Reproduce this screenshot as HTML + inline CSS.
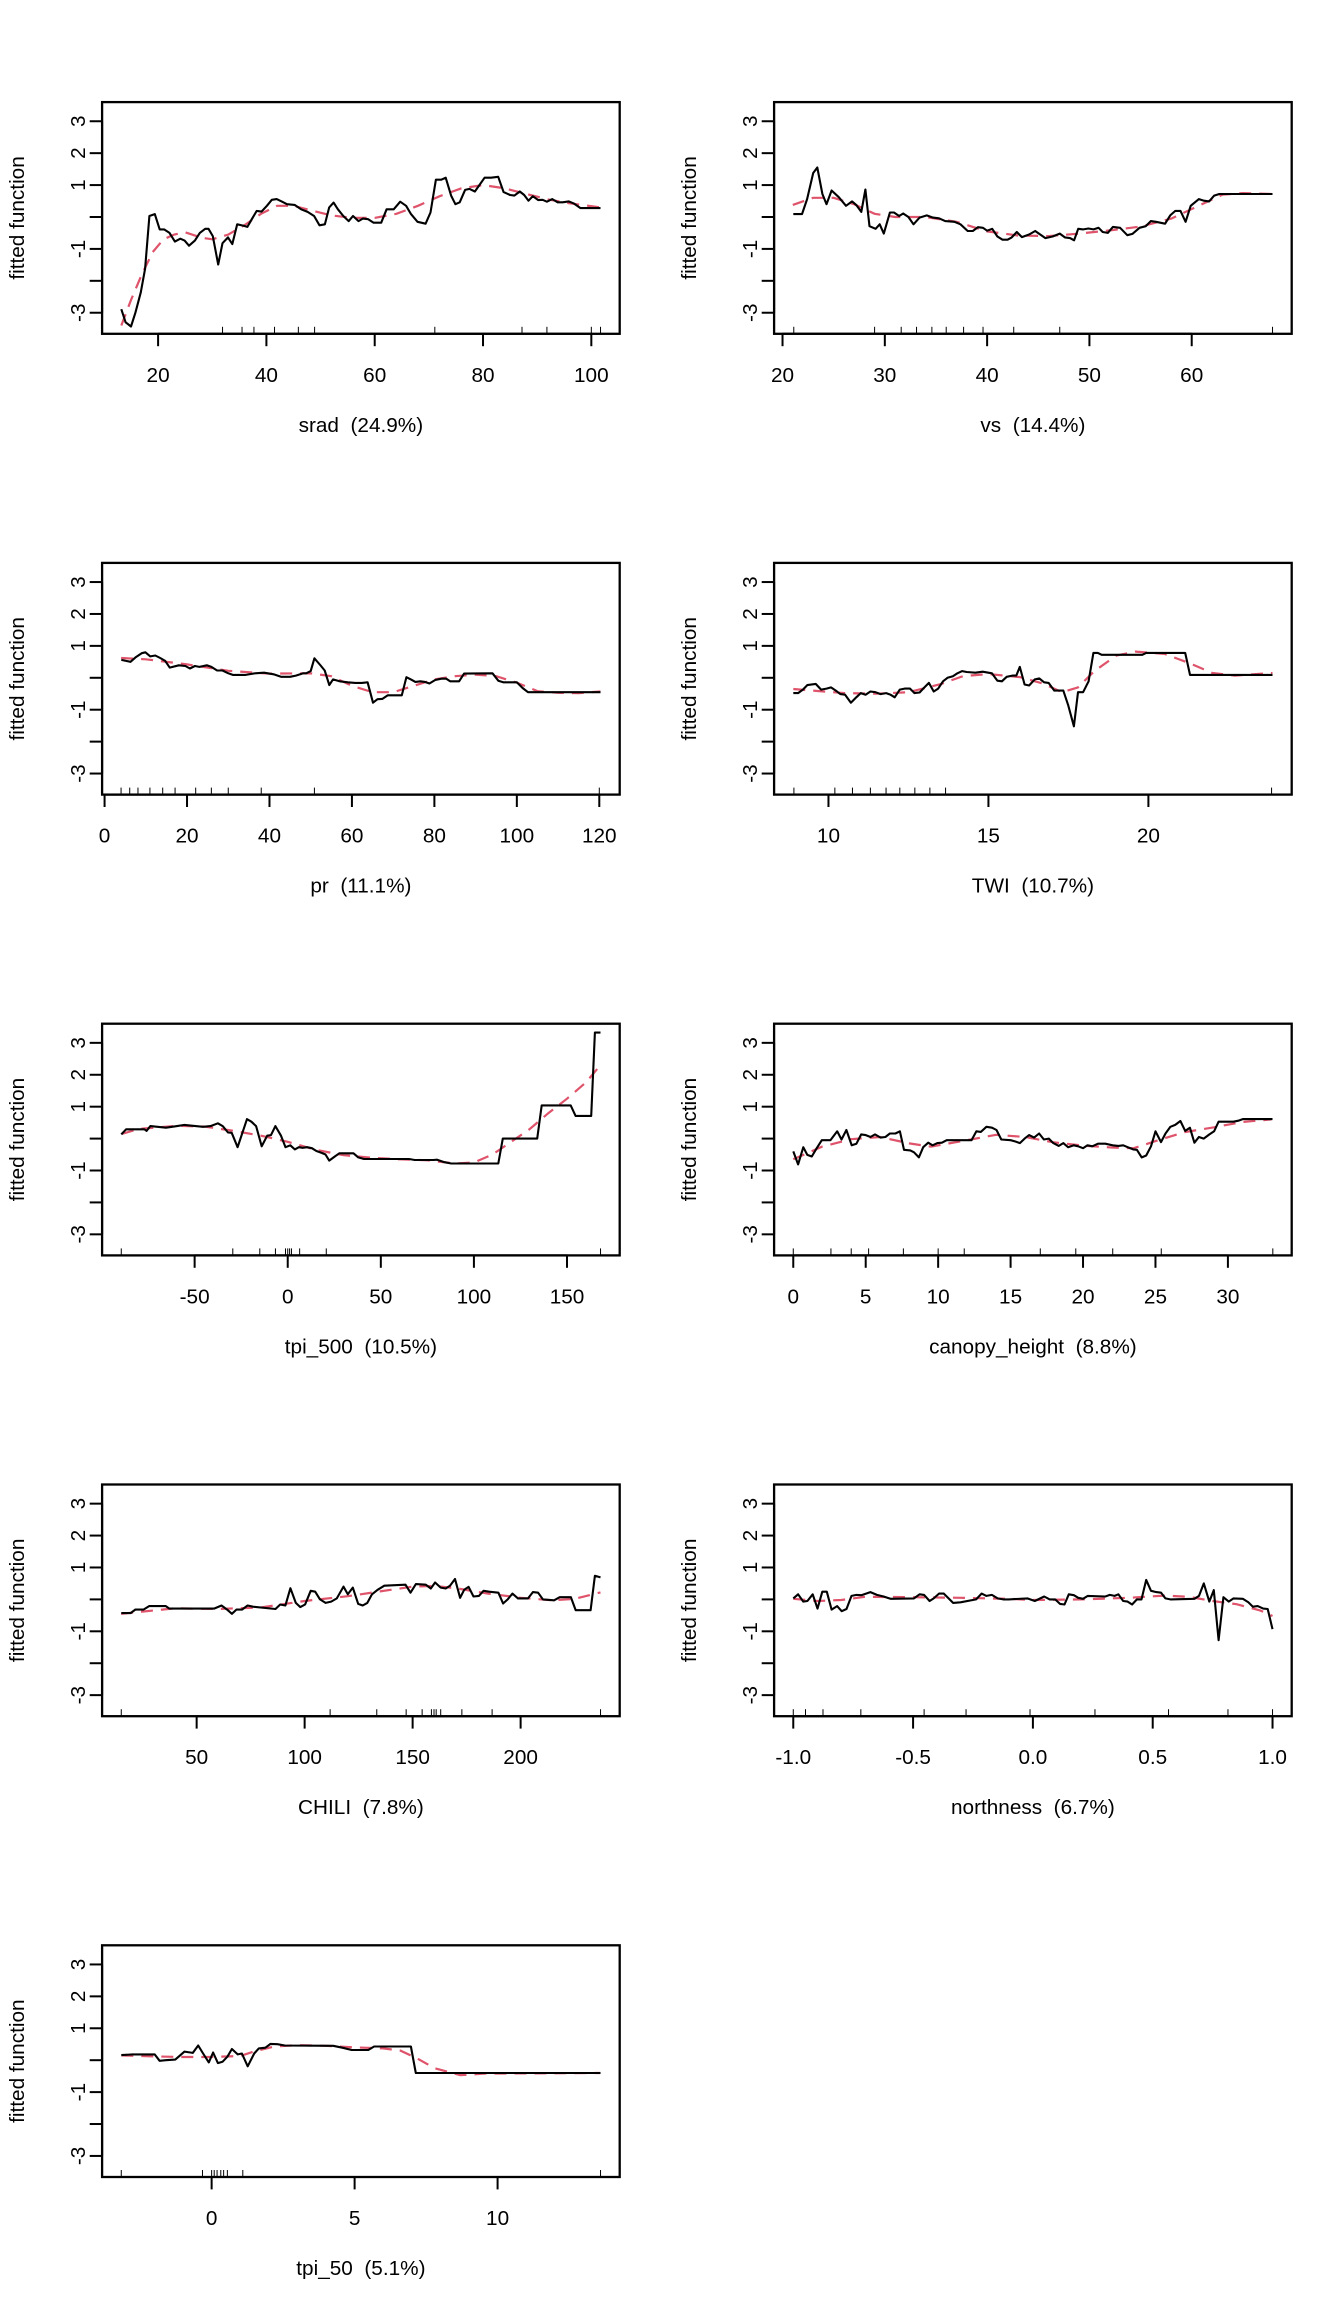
<!DOCTYPE html>
<html><head><meta charset="utf-8"><title>Partial dependence plots</title>
<style>html,body{margin:0;padding:0;background:#fff}svg{display:block}text{font-family:"Liberation Sans",Arial,sans-serif;fill:#000;white-space:pre}</style>
</head><body>
<svg id="chart" width="1344" height="2304" viewBox="0 0 1344 2304" xmlns="http://www.w3.org/2000/svg" xml:space="preserve">
<rect x="0" y="0" width="1344" height="2304" fill="#fff"/>
</svg>
<script>
const labels = ["srad  (24.9%)","vs  (14.4%)","pr  (11.1%)","TWI  (10.7%)","tpi_500  (10.5%)","canopy_height  (8.8%)","CHILI  (7.8%)","northness  (6.7%)","tpi_50  (5.1%)"];
const panelNames = ["srad","vs","pr","twi","tpi-500","canopy-height","chili","northness","tpi-50"];
const yTicks = [-3,-2,-1,0,1,2,3];
const yTickLabels = ["-3","","-1","","1","2","3"];

const p1_x = [13.2,14,15,15.8,16.8,17.6,18.4,19.4,20.3,21.1,22.1,23.1,24.1,24.9,25.7,26.8,27.7,28.7,29.3,30.1,31.1,31.9,32.9,33.7,34.6,35.7,36.5,37.3,38.2,39.1,40.1,41,41.9,42.8,43.8,45.2,46.4,47.6,48.8,49.8,50.8,51.6,52.4,53.2,54.2,55.2,56,57,57.8,58.8,59.8,61.2,62.2,63.5,64.7,65.8,66.7,67.9,69.4,70.3,71.3,72.3,73.1,74.1,74.9,75.7,76.7,77.5,78.5,79.3,80.3,81.5,82.8,83.8,85,85.8,86.8,87.6,88.4,89.2,90.2,91,91.8,92.8,93.8,94.7,95.8,96.7,98,99.7,101.7];
const p1_y = [-2.89,-3.3,-3.43,-3.0,-2.36,-1.62,0.03,0.09,-0.39,-0.39,-0.5,-0.77,-0.68,-0.74,-0.9,-0.74,-0.5,-0.37,-0.37,-0.6,-1.49,-0.82,-0.64,-0.85,-0.23,-0.27,-0.31,-0.07,0.19,0.17,0.35,0.54,0.56,0.49,0.4,0.38,0.24,0.16,0.03,-0.26,-0.23,0.3,0.45,0.24,0.03,-0.13,0.03,-0.13,-0.05,-0.07,-0.18,-0.18,0.24,0.24,0.48,0.35,0.09,-0.15,-0.21,0.14,1.17,1.17,1.23,0.67,0.4,0.46,0.85,0.88,0.8,0.99,1.23,1.23,1.26,0.78,0.69,0.67,0.8,0.69,0.51,0.65,0.53,0.54,0.48,0.56,0.46,0.46,0.49,0.43,0.28,0.28,0.28];
const p1_sx = [13.2,15,17,19,21,23,25,28,30,33,36,39,42,45,48,52,56,60,64,68,72,76,80,84,88,92,96,101.7];
const p1_sy = [-3.4,-2.6,-1.8,-1.1,-0.7,-0.55,-0.48,-0.65,-0.7,-0.55,-0.25,0.1,0.35,0.35,0.22,0.05,-0.03,-0.03,0.1,0.35,0.65,0.9,1.0,0.9,0.72,0.55,0.43,0.3];
const p1_rug = [31.9,35.5,37.7,41.5,45.9,48.9,71.1,87.2,91.8,100,101.7];
const p1_ticks = [20,40,60,80,100];

const p2_x = [21.05,21.9,22.4,23,23.4,23.9,24.3,24.8,25.5,26.2,26.8,27.2,27.7,28.1,28.5,29.1,29.5,29.9,30.5,30.9,31.4,31.8,32.3,32.8,33.4,34.1,34.7,35.3,35.9,36.8,37.4,38.1,38.6,39.1,39.6,40,40.5,41,41.5,42,42.4,42.9,43.4,44.1,44.7,45.1,45.7,46.4,47.1,47.6,48.1,48.5,48.9,49.4,49.9,50.4,50.9,51.3,51.8,52.3,53,53.7,54.2,54.9,55.5,56,56.5,57.4,57.9,58.4,58.9,59.4,59.9,60.7,61.2,61.7,62.2,62.7,64.5,67.9];
const p2_y = [0.09,0.09,0.56,1.38,1.55,0.72,0.4,0.83,0.62,0.35,0.49,0.38,0.16,0.86,-0.29,-0.37,-0.23,-0.52,0.14,0.14,0.03,0.11,0,-0.23,-0.02,0.05,-0.02,-0.04,-0.13,-0.15,-0.23,-0.44,-0.44,-0.32,-0.34,-0.43,-0.37,-0.61,-0.71,-0.71,-0.64,-0.47,-0.63,-0.55,-0.44,-0.53,-0.66,-0.61,-0.52,-0.64,-0.66,-0.73,-0.37,-0.39,-0.36,-0.39,-0.34,-0.47,-0.5,-0.31,-0.34,-0.57,-0.53,-0.34,-0.29,-0.13,-0.15,-0.21,0.05,0.19,0.19,-0.15,0.35,0.56,0.51,0.49,0.67,0.72,0.72,0.72];
const p2_sx = [21,23,25,27,29,31,34,37,40,43,46,49,52,55,58,61,63,65,67.9];
const p2_sy = [0.38,0.6,0.6,0.4,0.1,0,0,-0.15,-0.45,-0.58,-0.6,-0.52,-0.42,-0.3,-0.05,0.4,0.7,0.75,0.72];
const p2_rug = [21.1,29,31.6,33.1,34.6,36,37.7,39.6,42.6,47.1,67.9];
const p2_ticks = [20,30,40,50,60];

const p3_x = [4.05,6.3,7.5,9,9.9,11.1,12.3,13.5,14.7,15.8,18,19.6,20.7,21.9,23,24.8,25.9,27.3,28.6,30,31.1,34.2,36.5,38.7,41,42.8,45,46.4,48.2,48.9,50,50.9,52.3,53.4,54.5,55.4,57,59,60.8,62.4,63.8,65.1,66.2,67.4,68.7,72.1,73.2,74.3,75.4,76.6,77.7,78.8,80.2,81.7,82.9,83.8,86,87.2,94.1,95.5,96.7,100,101.4,102.7,120.3];
const p3_y = [0.56,0.5,0.64,0.77,0.8,0.67,0.7,0.62,0.53,0.32,0.39,0.37,0.29,0.37,0.34,0.39,0.34,0.23,0.23,0.14,0.09,0.09,0.14,0.16,0.11,0.03,0.03,0.07,0.14,0.14,0.21,0.61,0.4,0.23,-0.23,-0.05,-0.11,-0.14,-0.16,-0.16,-0.14,-0.78,-0.67,-0.66,-0.55,-0.55,0.02,-0.05,-0.13,-0.11,-0.13,-0.18,-0.07,-0.03,-0.03,-0.11,-0.11,0.13,0.14,-0.09,-0.14,-0.14,-0.32,-0.45,-0.45];
const p3_sx = [4,10,20,30,40,50,55,60,65,70,75,80,85,90,95,100,105,110,115,120.3];
const p3_sy = [0.62,0.58,0.42,0.22,0.13,0.14,0.05,-0.25,-0.45,-0.45,-0.25,-0.05,0.05,0.1,0.05,-0.15,-0.42,-0.47,-0.48,-0.43];
const p3_rug = [4,6.1,8.1,11,14.1,17.1,22.1,25.9,30,38,50.9,120];
const p3_ticks = [0,20,40,60,80,100,120];

const p4_x = [8.9,9.05,9.2,9.34,9.6,9.77,9.94,10.08,10.23,10.37,10.52,10.7,10.87,11.01,11.16,11.31,11.47,11.63,11.8,11.94,12.07,12.23,12.38,12.55,12.69,12.85,12.98,13.14,13.29,13.43,13.58,13.72,13.89,14.03,14.18,14.32,14.59,14.82,15.11,15.28,15.42,15.57,15.75,15.87,15.98,16.13,16.27,16.45,16.59,16.74,16.88,17.06,17.34,17.49,17.67,17.8,17.96,18.13,18.28,18.42,18.54,19.81,19.93,21.15,21.3,23.88];
const p4_y = [-0.48,-0.48,-0.37,-0.23,-0.19,-0.37,-0.34,-0.3,-0.4,-0.51,-0.53,-0.78,-0.61,-0.48,-0.53,-0.43,-0.45,-0.51,-0.48,-0.53,-0.61,-0.37,-0.34,-0.34,-0.48,-0.46,-0.32,-0.16,-0.43,-0.34,-0.11,0,0.05,0.14,0.21,0.18,0.16,0.19,0.14,-0.09,-0.11,0.03,0.07,0.07,0.34,-0.21,-0.24,-0.05,-0.02,-0.14,-0.16,-0.4,-0.4,-0.85,-1.52,-0.45,-0.45,-0.11,0.78,0.78,0.72,0.72,0.78,0.78,0.09,0.09];
const p4_sx = [8.9,9.5,10.5,11.5,12.5,13.5,14.2,15,16,16.7,17.3,17.8,18.3,19,19.6,20.5,21.3,22,22.7,23.88];
const p4_sy = [-0.35,-0.4,-0.48,-0.5,-0.45,-0.2,0.05,0.12,0.02,-0.18,-0.45,-0.3,0.2,0.7,0.82,0.75,0.45,0.15,0.07,0.15];
const p4_rug = [8.92,10.2,10.75,11.31,11.8,12.23,12.7,13.17,13.66,23.85];
const p4_ticks = [10,15,20];

const p5_x = [-89.4,-86.8,-77,-75.8,-73.8,-65.4,-59.4,-55.5,-45.5,-41.5,-37.5,-34.9,-32.1,-30.1,-26.9,-24.1,-21.9,-19.5,-17,-14,-11,-9,-6.6,-3.6,-1.2,1.4,3.8,6,8,10.4,13,15.4,18.4,20.3,22.3,25.3,27.7,35.3,37.9,40.9,65.2,68.2,78.2,80.2,84.2,87.8,113.1,115.5,134,136.4,152,154.6,163,165,168];
const p5_y = [0.13,0.29,0.29,0.24,0.39,0.34,0.39,0.43,0.37,0.39,0.48,0.39,0.19,0.18,-0.27,0.23,0.61,0.53,0.39,-0.24,0.09,0.11,0.39,0.09,-0.27,-0.21,-0.34,-0.27,-0.29,-0.27,-0.3,-0.39,-0.45,-0.5,-0.69,-0.56,-0.46,-0.46,-0.59,-0.64,-0.64,-0.67,-0.67,-0.66,-0.74,-0.78,-0.78,0,0,1.04,1.04,0.71,0.71,3.32,3.32];
const p5_sx = [-89,-80,-60,-45,-30,-15,0,15,30,45,60,75,90,100,110,120,130,140,150,160,168];
const p5_sy = [0.15,0.3,0.4,0.38,0.25,0.1,-0.1,-0.35,-0.52,-0.6,-0.65,-0.68,-0.78,-0.75,-0.5,-0.1,0.3,0.8,1.25,1.75,2.3];
const p5_rug = [-89.4,-29.5,-15,-6.6,-1.2,0,1,2,6.4,20.7,168];
const p5_ticks = [-50,0,50,100,150];

const p6_x = [0,0.33,0.69,0.97,1.28,1.62,1.97,2.56,3.03,3.33,3.67,4.03,4.36,4.69,5,5.33,5.64,6.03,6.36,6.67,7.05,7.36,7.64,8.08,8.33,8.67,8.97,9.31,9.62,9.95,10.26,10.59,12.3,12.64,12.95,13.33,13.72,14.03,14.36,15,15.33,15.64,15.97,16.28,16.62,16.97,17.3,17.64,17.95,18.33,18.64,18.97,19.36,19.67,20,20.31,20.64,21.03,21.54,22.05,22.44,22.77,23.08,23.46,23.72,24.05,24.36,24.69,25,25.38,25.69,26.03,26.36,26.72,27.05,27.38,27.69,28,28.33,28.72,29.05,29.36,30.38,30.72,31.03,33.08];
const p6_y = [-0.4,-0.81,-0.27,-0.51,-0.56,-0.3,-0.05,-0.05,0.23,-0.03,0.27,-0.21,-0.16,0.13,0.11,0.05,0.13,0.03,0.05,0.16,0.16,0.23,-0.35,-0.37,-0.43,-0.59,-0.27,-0.13,-0.21,-0.14,-0.13,-0.05,-0.05,0.23,0.21,0.37,0.34,0.27,-0.03,-0.05,-0.09,-0.14,0,0.11,0.03,0.16,-0.03,0,-0.14,-0.23,-0.14,-0.27,-0.21,-0.24,-0.3,-0.21,-0.24,-0.16,-0.16,-0.21,-0.23,-0.21,-0.27,-0.34,-0.35,-0.59,-0.53,-0.24,0.23,-0.11,0.16,0.37,0.43,0.55,0.24,0.34,-0.13,0.05,0,0.13,0.23,0.53,0.53,0.56,0.61,0.61];
const p6_sx = [0,2,4,6,8,9.5,12,14,16,18,20,22,23.5,25,27,29,31,33];
const p6_sy = [-0.65,-0.25,-0.02,0.05,-0.15,-0.25,-0.05,0.12,0.05,-0.12,-0.22,-0.28,-0.3,-0.08,0.2,0.35,0.52,0.6];
const p6_rug = [0,2.6,4,5.2,7.6,10,11.8,17.05,19.5,22.05,25.4,33.1];
const p6_ticks = [0,5,10,15,20,25,30];

const p7_x = [15.1,19.4,21.6,25.4,28,35.7,37.4,58.1,61.5,64.1,66.3,68.4,71,73.6,76.1,86.5,88.7,91.1,93.4,95.9,98,100.2,102.8,104.9,107.1,109.7,112.3,114.9,118,120,122.3,124.8,126.9,129,131.2,133.8,136.9,146.7,149,151.5,156.1,158.4,160.4,163,165.3,167.3,169.6,172,173.9,175.9,178.2,180.7,182.8,185.4,189.7,191.9,194,196.2,198.8,203.4,205.7,208.1,210.3,215.5,218.1,223.3,225.5,232.4,234.4,237];
const p7_y = [-0.43,-0.43,-0.32,-0.32,-0.21,-0.21,-0.29,-0.29,-0.19,-0.32,-0.45,-0.32,-0.32,-0.19,-0.23,-0.3,-0.16,-0.19,0.35,-0.11,-0.24,-0.16,0.27,0.24,0,-0.11,-0.07,0.03,0.4,0.16,0.37,-0.14,-0.19,-0.11,0.16,0.3,0.43,0.46,0.21,0.48,0.46,0.34,0.53,0.37,0.34,0.43,0.64,0.05,0.3,0.39,0.09,0.11,0.27,0.24,0.21,-0.13,0,0.18,0.03,0.03,0.23,0.21,0,-0.03,0.07,0.07,-0.34,-0.34,0.74,0.69];
const p7_sx = [15,40,60,80,100,120,135,150,160,170,185,200,215,225,237];
const p7_sy = [-0.45,-0.28,-0.3,-0.25,-0.05,0.1,0.25,0.4,0.42,0.35,0.18,0.05,-0.03,0.02,0.22];
const p7_rug = [15.1,111.8,133.4,147,154.4,158.7,159.9,160.9,163,172.8,186.8,237];
const p7_ticks = [50,100,150,200];

const p8_x = [-1,-0.98,-0.958,-0.941,-0.919,-0.899,-0.879,-0.86,-0.84,-0.817,-0.798,-0.778,-0.757,-0.736,-0.716,-0.678,-0.651,-0.623,-0.594,-0.496,-0.473,-0.454,-0.431,-0.414,-0.392,-0.372,-0.352,-0.333,-0.302,-0.237,-0.214,-0.194,-0.171,-0.147,-0.124,-0.101,-0.023,0.008,0.047,0.07,0.093,0.113,0.132,0.15,0.171,0.189,0.209,0.229,0.302,0.321,0.341,0.357,0.377,0.395,0.414,0.434,0.453,0.473,0.493,0.515,0.535,0.553,0.574,0.674,0.693,0.713,0.736,0.755,0.775,0.795,0.817,0.837,0.876,0.899,0.918,0.938,0.961,0.98,1];
const p8_y = [0.03,0.16,-0.07,-0.05,0.16,-0.29,0.24,0.24,-0.32,-0.21,-0.37,-0.3,0.11,0.14,0.13,0.23,0.14,0.09,0.02,0.03,0.16,0.14,-0.05,0.03,0.18,0.18,0.03,-0.11,-0.09,0,0.18,0.11,0.14,0.03,0,0,0.03,-0.05,0.09,0,0,-0.14,-0.16,0.16,0.13,0.05,0.02,0.11,0.09,0.14,0.11,0.16,-0.05,-0.07,-0.16,0,0,0.61,0.27,0.23,0.21,0.03,0,0.02,0.11,0.5,-0.07,0.29,-1.28,0.07,-0.07,0.03,0.02,-0.09,-0.23,-0.21,-0.29,-0.3,-0.93];
const p8_sx = [-1,-0.9,-0.8,-0.7,-0.5,-0.3,-0.1,0,0.2,0.4,0.55,0.65,0.75,0.85,0.95,1];
const p8_sy = [0.02,-0.05,-0.02,0.08,0.07,0.05,0.02,-0.02,0,0.05,0.12,0.08,-0.05,-0.15,-0.35,-0.52];
const p8_rug = [-1,-0.949,-0.876,-0.718,-0.454,-0.279,-0.012,0.259,0.566,0.814,1];
const p8_ticks = [-1,-0.5,0,0.5,1];
const p8_tickLabels = ["-1.0","-0.5","0.0","0.5","1.0"];

const p9_x = [-3.16,-2.77,-1.99,-1.82,-1.6,-1.27,-0.95,-0.66,-0.47,-0.3,-0.1,0.05,0.22,0.38,0.55,0.71,0.91,1.06,1.26,1.49,1.65,1.88,2.06,2.3,2.56,4.25,4.57,4.9,5.48,5.68,6.97,7.14,13.6];
const p9_y = [0.16,0.18,0.18,-0.02,0,0.02,0.27,0.23,0.46,0.21,-0.07,0.24,-0.09,-0.05,0.11,0.35,0.18,0.21,-0.19,0.21,0.37,0.39,0.51,0.5,0.46,0.45,0.39,0.32,0.32,0.43,0.43,-0.4,-0.4];
const p9_sx = [-3.16,-2,-1,0,1,1.5,2.2,3,4,5,6,6.6,7.2,7.8,8.7,9.5,13.6];
const p9_sy = [0.15,0.12,0.1,0.1,0.13,0.28,0.43,0.47,0.45,0.4,0.37,0.3,0.05,-0.25,-0.47,-0.42,-0.4];
const p9_rug = [-3.16,-0.32,0,0.09,0.19,0.32,0.42,0.55,1.09,13.6];
const p9_ticks = [0,5,10];

const panels = [
  [p1_x,p1_y,p1_sx,p1_sy,p1_rug,p1_ticks,null],
  [p2_x,p2_y,p2_sx,p2_sy,p2_rug,p2_ticks,null],
  [p3_x,p3_y,p3_sx,p3_sy,p3_rug,p3_ticks,null],
  [p4_x,p4_y,p4_sx,p4_sy,p4_rug,p4_ticks,null],
  [p5_x,p5_y,p5_sx,p5_sy,p5_rug,p5_ticks,null],
  [p6_x,p6_y,p6_sx,p6_sy,p6_rug,p6_ticks,null],
  [p7_x,p7_y,p7_sx,p7_sy,p7_rug,p7_ticks,null],
  [p8_x,p8_y,p8_sx,p8_sy,p8_rug,p8_ticks,p8_tickLabels],
  [p9_x,p9_y,p9_sx,p9_sy,p9_rug,p9_ticks,null]
];

const NS = "http://www.w3.org/2000/svg";
const svg = document.getElementById("chart");
function mk(tag, attrs, parent){
  const e = document.createElementNS(NS, tag);
  for (const k in attrs) e.setAttribute(k, attrs[k]);
  parent.appendChild(e);
  return e;
}
const PW = 672, PH = 460.8;
const L = 102.1, R = 619.7, T = 102.1, B = 333.8;
const Y0 = -3.66, Y1 = 3.6;
const FS = 20.75;

panels.forEach((p, i) => {
  const [xs, ys, sxs, sys, rug, ticks, tl] = p;
  const ox = (i % 2) * PW, oy = Math.floor(i / 2) * PH;
  const g = mk("g", {transform: `translate(${ox},${oy})`}, svg);
  
  
  const xmin = Math.min(...xs), xmax = Math.max(...xs);
  const ext = (xmax - xmin) * 0.04;
  const X0 = xmin - ext, X1 = xmax + ext;
  const sx = v => L + (v - X0) / (X1 - X0) * (R - L);
  const sy = v => B - (v - Y0) / (Y1 - Y0) * (B - T);

  const n2 = Math.min(sxs.length, sys.length);
  let d2 = "";
  for (let k = 0; k < n2; k++) d2 += (k ? "L" : "M") + sx(sxs[k]).toFixed(1) + "," + sy(sys[k]).toFixed(1);
  const sm = mk("path", {d: d2, fill: "none", stroke: "#DF536B", "stroke-width": 2.2, "stroke-dasharray": "12 8"}, g);
  
  

  const n = Math.min(xs.length, ys.length);
  let d = "";
  for (let k = 0; k < n; k++) d += (k ? "L" : "M") + sx(xs[k]).toFixed(1) + "," + sy(ys[k]).toFixed(1);
  const fl = mk("path", {d: d, fill: "none", stroke: "#000", "stroke-width": 2.1, "stroke-linejoin": "round"}, g);
  
  

  rug.forEach(v => {
    const r = mk("line", {x1: sx(v), x2: sx(v), y1: B, y2: B - 7, stroke: "#000", "stroke-width": 1}, g);
    
    
  });

  const box = mk("rect", {x: L, y: T, width: R - L, height: B - T, fill: "none", stroke: "#000", "stroke-width": 2.3}, g);
  
  

  const xa = mk("line", {x1: sx(ticks[0]), x2: sx(ticks[ticks.length-1]), y1: B, y2: B, stroke: "#000", "stroke-width": 2}, g);
  
  
  ticks.forEach((v, k) => {
    const t = mk("line", {x1: sx(v), x2: sx(v), y1: B, y2: B + 12.4, stroke: "#000", "stroke-width": 2}, g);
    
    
    const tx = mk("text", {x: sx(v), y: B + 48, "font-size": FS, "text-anchor": "middle"}, g);
    tx.textContent = tl ? tl[k] : String(v);
    
    
  });
  const xl = mk("text", {x: (L + R) / 2, y: B + 98, "font-size": FS, "text-anchor": "middle"}, g);
  xl.textContent = labels[i];
  
  

  const ya = mk("line", {x1: L, x2: L, y1: sy(-3), y2: sy(3), stroke: "#000", "stroke-width": 2}, g);
  
  
  yTicks.forEach((v, k) => {
    const t = mk("line", {x1: L - 12.4, x2: L, y1: sy(v), y2: sy(v), stroke: "#000", "stroke-width": 2}, g);
    
    
    if (yTickLabels[k]) {
      const tx = mk("text", {x: 0, y: 0, "font-size": FS, "text-anchor": "middle", transform: `translate(${L - 17},${sy(v)}) rotate(-90)`}, g);
      tx.textContent = yTickLabels[k];
      
      
    }
  });
  const yl = mk("text", {x: 0, y: 0, "font-size": FS, "text-anchor": "middle", transform: `translate(${L - 78},${(T + B) / 2}) rotate(-90)`}, g);
  yl.textContent = "fitted function";
  
  
});
</script>
</body></html>
